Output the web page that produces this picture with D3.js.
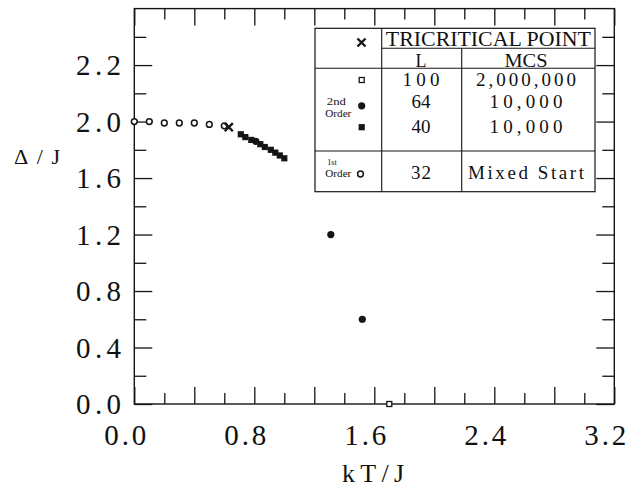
<!DOCTYPE html>
<html>
<head>
<meta charset="utf-8">
<script src="https://cdn.jsdelivr.net/npm/d3@7"></script>
<style>
  html, body { margin: 0; padding: 0; background: #fff; }
  svg { display: block; }
  text { font-family: "Liberation Serif", "Times New Roman", serif; fill: #111; }
</style>
</head>
<body>
<svg id="chart" width="639" height="491"></svg>
<script>
// ---- axis ticks -------------------------------------------------------
const xMajorTicks = [0, 0.4, 0.8, 1.2, 1.6, 2.0, 2.4, 2.8, 3.2];
const xMinorTicks = [0.2, 0.6, 1.0, 1.4, 1.8, 2.2, 2.6, 3.0];
const xTickLabels = ["0.0", "", "0.8", "", "1.6", "", "2.4", "", "3.2"];
const yMajorTicks = [0, 0.4, 0.8, 1.2, 1.6, 2.0, 2.4];
const yMinorTicks = [0.2, 0.6, 1.0, 1.4, 1.8, 2.2, 2.6];
const yTickLabels = ["0.0", "0.4", "0.8", "1.2", "1.6", "2.0", "2.2"];

// ---- data: gap Δ/J versus temperature kT/J ------------------------------
// first-order, L = 32, mixed start (open circles)
const firstOrderT     = [0.0, 0.1, 0.2, 0.3, 0.4, 0.5, 0.6];
const firstOrderDelta = [2.00, 2.00, 1.99, 1.99, 1.99, 1.98, 1.97];
// second-order, L = 40, 10,000 MCS (filled squares)
const l40T     = [0.71, 0.74, 0.78, 0.84, 0.87, 0.91, 0.94, 0.97, 1.00];
const l40Delta = [1.91, 1.89, 1.87, 1.84, 1.82, 1.80, 1.78, 1.76, 1.74];
// second-order, L = 64, 10,000 MCS (filled circles)
const l64T     = [0.81, 1.31, 1.52];
const l64Delta = [1.86, 1.20, 0.60];
// second-order, L = 100, 2,000,000 MCS (open square)
const l100T     = [1.70];
const l100Delta = [0.00];
// tricritical point
const tcpT     = [0.63];
const tcpDelta = [1.96];

// ---- legend table text ----------------------------------------------------
const legendHeader = "TRICRITICAL POINT";
const legendCols   = ["L", "MCS"];
const legendL      = ["100", "64", "40", "32"];
const legendMCS    = ["2,000,000", "10,000", "10,000", "Mixed  Start"];

// ---- layout ---------------------------------------------------------------
const svg = d3.select("#chart");
const X0 = 134.3, X1 = 614.3, Y0 = 404, Y1 = 8.6;
const x = d3.scaleLinear().domain([0, 3.2]).range([X0, X1]);
const y = d3.scaleLinear().domain([0, 2.8]).range([Y0, Y1]);
const ink = "#151515";

const axes = svg.append("g").attr("stroke", ink);

function tickAxis(gen, scale, values, len, translate) {
  const g = axes.append("g")
    .attr("transform", translate)
    .call(gen(scale).tickValues(values).tickSizeInner(-len).tickSizeOuter(0).tickFormat(""));
  g.select(".domain").remove();
  g.selectAll("line").attr("stroke", ink).attr("stroke-width", 1.3);
  return g;
}
// bottom / top
tickAxis(d3.axisBottom, x, xMajorTicks, 17, `translate(0,${Y0})`);
tickAxis(d3.axisBottom, x, xMinorTicks, 11, `translate(0,${Y0})`);
tickAxis(d3.axisTop, x, xMajorTicks, 17, `translate(0,${Y1})`);
tickAxis(d3.axisTop, x, xMinorTicks, 11, `translate(0,${Y1})`);
// left / right
tickAxis(d3.axisLeft, y, yMajorTicks, 18, `translate(${X0},0)`);
tickAxis(d3.axisLeft, y, yMinorTicks, 12, `translate(${X0},0)`);
tickAxis(d3.axisRight, y, yMajorTicks, 18, `translate(${X1},0)`);
tickAxis(d3.axisRight, y, yMinorTicks, 12, `translate(${X1},0)`);

// frame
svg.append("rect")
  .attr("x", X0).attr("y", Y1).attr("width", X1 - X0).attr("height", Y0 - Y1)
  .attr("fill", "none").attr("stroke", ink).attr("stroke-width", 1.4);

// tick labels
svg.append("g").selectAll("text")
  .data(xMajorTicks.map((v, i) => ({ v, t: xTickLabels[i] })).filter(d => d.t))
  .join("text")
  .attr("x", d => x(d.v) - 9).attr("y", 445)
  .attr("text-anchor", "middle")
  .attr("font-size", 29)
  .attr("textLength", 42).attr("lengthAdjust", "spacing")
  .text(d => d.t);

svg.append("g").selectAll("text")
  .data(yMajorTicks.map((v, i) => ({ v, t: yTickLabels[i] })))
  .join("text")
  .attr("x", 121).attr("y", d => y(d.v) + 10)
  .attr("text-anchor", "end")
  .attr("font-size", 29)
  .attr("textLength", 45).attr("lengthAdjust", "spacing")
  .text(d => d.t);

// axis titles
svg.append("text")
  .attr("x", 14).attr("y", 164)
  .attr("font-size", 22)
  .attr("textLength", 46).attr("lengthAdjust", "spacing")
  .text("Δ/J");
svg.append("text")
  .attr("x", 373).attr("y", 482)
  .attr("text-anchor", "middle")
  .attr("font-size", 26)
  .attr("textLength", 62).attr("lengthAdjust", "spacing")
  .text("kT/J");

// ---- markers ----------------------------------------------------------------
const marks = svg.append("g");
const pts = (ts, ds) => ts.map((t, i) => ({ t, d: ds[i] }));

function openCircle(g, cx, cy) {
  g.append("circle").attr("cx", cx).attr("cy", cy).attr("r", 2.9)
    .attr("fill", "#fff").attr("stroke", ink).attr("stroke-width", 1.5);
}
function filledCircle(g, cx, cy) {
  g.append("circle").attr("cx", cx).attr("cy", cy).attr("r", 3.6).attr("fill", ink);
}
function filledSquare(g, cx, cy) {
  g.append("rect").attr("x", cx - 3.1).attr("y", cy - 3.1)
    .attr("width", 6.2).attr("height", 6.2).attr("fill", ink);
}
function openSquare(g, cx, cy) {
  g.append("rect").attr("x", cx - 2.5).attr("y", cy - 2.5)
    .attr("width", 5).attr("height", 5)
    .attr("fill", "#fff").attr("stroke", ink).attr("stroke-width", 1.3);
}
const crossPath = d3.symbol().type(d3.symbolTimes).size(44)();
function cross(g, cx, cy) {
  g.append("path").attr("d", crossPath).attr("transform", `translate(${cx},${cy})`)
    .attr("fill", "none").attr("stroke", ink).attr("stroke-width", 2.4);
}

pts(firstOrderT, firstOrderDelta).forEach(p => openCircle(marks, x(p.t), y(p.d)));
pts(tcpT, tcpDelta).forEach(p => cross(marks, x(p.t), y(p.d)));
pts(l40T, l40Delta).forEach(p => filledSquare(marks, x(p.t), y(p.d)));
pts(l64T, l64Delta).forEach(p => filledCircle(marks, x(p.t), y(p.d)));
pts(l100T, l100Delta).forEach(p => openSquare(marks, x(p.t), y(p.d)));

// ---- legend table -------------------------------------------------------------
const T = { l: 315, t: 28.3, r: 595, b: 191.7, c1: 381.7, c2: 461.7, h1: 48.3, h2: 68.3, h3: 151 };
const leg = svg.append("g");
leg.append("rect").attr("x", T.l).attr("y", T.t).attr("width", T.r - T.l).attr("height", T.b - T.t)
  .attr("fill", "#fff").attr("stroke", ink).attr("stroke-width", 1.2);
const lines = [
  [T.c1, T.t, T.c1, T.b],
  [T.c2, T.h1, T.c2, T.b],
  [T.c1, T.h1, T.r, T.h1],
  [T.l, T.h2, T.r, T.h2],
  [T.l, T.h3, T.r, T.h3]
];
leg.selectAll("line").data(lines).join("line")
  .attr("x1", d => d[0]).attr("y1", d => d[1]).attr("x2", d => d[2]).attr("y2", d => d[3])
  .attr("stroke", ink).attr("stroke-width", 1.1);

const colL = 421, colM = 526;
leg.append("text").attr("x", (T.c1 + T.r) / 2).attr("y", 46)
  .attr("text-anchor", "middle").attr("font-size", 20)
  .attr("textLength", 205).attr("lengthAdjust", "spacingAndGlyphs").text(legendHeader);
leg.append("text").attr("x", colL).attr("y", 66.5).attr("text-anchor", "middle")
  .attr("font-size", 18).text(legendCols[0]);
leg.append("text").attr("x", colM).attr("y", 66.5).attr("text-anchor", "middle")
  .attr("font-size", 18).attr("textLength", 43).attr("lengthAdjust", "spacingAndGlyphs").text(legendCols[1]);

const rowBase = [86, 108.3, 132.5, 179];
const lWidths = [37, 19, 19, 20];
const mWidths = [100, 73, 73, 116];
legendL.forEach((s, i) => {
  leg.append("text").attr("x", colL).attr("y", rowBase[i]).attr("text-anchor", "middle")
    .attr("font-size", 19).attr("textLength", lWidths[i]).attr("lengthAdjust", "spacing").text(s);
  leg.append("text").attr("x", colM).attr("y", rowBase[i]).attr("text-anchor", "middle")
    .attr("font-size", 19).attr("textLength", mWidths[i]).attr("lengthAdjust", "spacing").text(legendMCS[i]);
});

// legend symbols
cross(leg, 361.5, 42.5);
openSquare(leg, 361.7, 80);
filledCircle(leg, 361.7, 105.8);
filledSquare(leg, 361.7, 127.2);
openCircle(leg, 360.5, 174);

// order labels
const small = (s, cx, by, fs, w) => leg.append("text").attr("x", cx).attr("y", by)
  .attr("text-anchor", "middle").attr("font-size", fs)
  .attr("textLength", w).attr("lengthAdjust", "spacingAndGlyphs").text(s);
small("2nd", 336.3, 105, 10, 19);
small("Order", 338.3, 116.5, 10, 26);
small("1st", 332, 165, 8, 9.5);
small("Order", 338.3, 177, 10, 26);
</script>
</body>
</html>
